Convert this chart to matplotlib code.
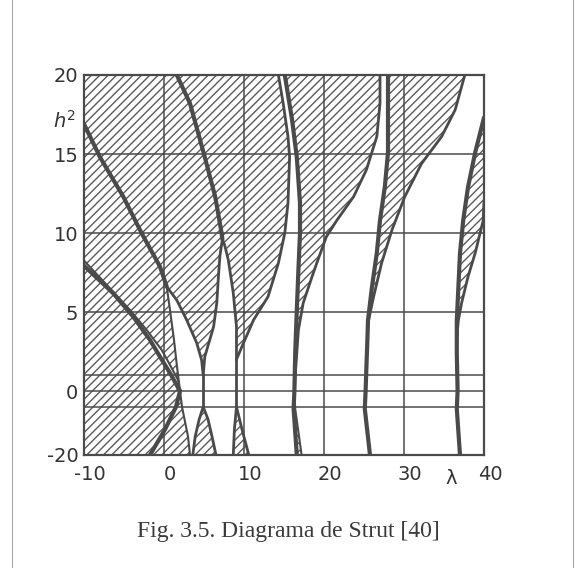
import numpy as np
import matplotlib
matplotlib.use("Agg")
import matplotlib.pyplot as plt
from matplotlib.lines import Line2D
from matplotlib.transforms import ScaledTranslation

# ---- stability boundaries of the Mathieu equation (lambda, h^2) ----
# a0 (thick) above and below the axis
A0_LAM = [-10.0, -6.34, -3.84, -1.75, -0.50, 0.75, 2.0]
A0_H2 = [7.93, 6.18, 4.70, 3.23, 2.17, 1.14, 0.0]
A0N_LAM = [2.0, 1.5, 0.13, -1.75]
A0N_H2 = [0.0, -1.0, -9.9, -20.0]
# b1 (thin, next to a0)
B1_LAM = [-10.0, -6.75, -4.25, -2.16, -0.29, 0.75, 1.75, 2.0]
B1_H2 = [8.25, 6.5, 5.13, 3.86, 2.6, 1.65, 0.7, 0.0]
# right boundary of the first tongue below the axis
L2_LAM = [2.0, 2.25, 3.0, 3.25]
L2_H2 = [0.0, -1.0, -12.7, -20.0]
# a1 (merged with b2 down to the split point, then alone)
A1_LAM = [-10.0, -8.0, -5.09, -2.79, -0.5, 0.34, 0.75, 1.25, 1.6, 2.0]
A1_H2 = [16.9, 14.8, 12.3, 9.98, 7.87, 6.6, 5.13, 3.23, 1.65, 0.0]
SPLIT = 5
# b2 from the split point to the crossing
B2_LAM = [0.34, 1.59, 2.84, 4.09, 4.7, 4.9]
B2_H2 = [6.6, 5.76, 4.49, 3.04, 1.96, 1.0]
# a2 and b3 below their junction, and the merged a2/b3 line above it
A2_LAM = [4.9, 5.1, 6.2, 6.6, 6.8, 7.0, 7.3]
A2_H2 = [1.0, 2.17, 4.07, 5.57, 7.23, 8.6, 9.6]
B3_LAM = [9.06, 9.06, 8.66, 8.04, 7.6, 7.3]
B3_H2 = [2.0, 4.07, 6.2, 8.29, 9.2, 9.6]
BM_LAM = [7.3, 7.2, 6.4, 5.1, 3.25, 1.6]
BM_H2 = [9.6, 10.0, 12.3, 14.8, 18.2, 20.0]
# branches of tongues 2 and 3 below the axis
T2L_LAM = [4.9, 4.4, 3.9, 3.6]
T2L_H2 = [-1.0, -5.9, -12.7, -20.0]
T2R_LAM = [4.9, 5.5, 6.0, 6.5]
T2R_H2 = [-1.0, -5.9, -12.7, -20.0]
T3L_LAM = [9.06, 8.8, 8.66]
T3L_H2 = [-1.0, -9.9, -20.0]
T3R_LAM = [9.06, 9.75, 10.6]
T3R_H2 = [-1.0, -9.9, -20.0]
# a3
A3_LAM = [9.06, 9.9, 11.2, 13.0, 14.3, 15.1, 15.5, 15.7, 15.5, 14.9, 14.3]
A3_H2 = [2.0, 3.0, 4.5, 5.97, 8.10, 10.0, 11.9, 14.8, 16.1, 18.2, 20.0]
# b4 (thick, full height)
B4_LAM = [15.1, 16.0, 16.6, 17.0, 17.0, 16.8, 16.6, 16.4, 16.3, 16.2, 16.6]
B4_H2 = [20.0, 17.2, 14.8, 11.9, 10.0, 7.66, 5.13, 2.4, 0.0, -1.8, -20.0]
# a4 above and below the axis
A4_LAM = [16.3, 16.4, 16.6, 16.8, 17.4, 18.5, 19.1, 20.3, 21.6, 23.7, 25.3, 26.6, 27.0, 27.0]
A4_H2 = [0.0, 1.0, 2.4, 3.86, 5.57, 7.23, 8.1, 9.77, 10.8, 12.3, 14.0, 16.1, 18.2, 20.0]
A4N_LAM = [16.3, 16.4, 17.2]
A4N_H2 = [0.0, -1.8, -20.0]
# b5 (thick) and a5
B5_LAM = [28.0, 28.0, 27.6, 27.0, 26.6, 26.0, 25.5, 25.4, 25.3, 25.2, 25.1, 25.75]
B5_H2 = [20.0, 15.1, 12.9, 10.8, 8.73, 6.6, 4.49, 2.9, 1.5, 0.0, -1.8, -20.0]
A5_LAM = [25.4, 25.5, 26.2, 27.2, 28.5, 30.1, 32.2, 34.7, 36.4, 37.6]
A5_H2 = [2.9, 4.3, 5.97, 8.1, 10.2, 12.3, 14.4, 16.1, 17.8, 20.0]
# b6 (thick) and a6
B6_LAM = [40.0, 38.9, 38.0, 37.4, 37.0, 36.8, 36.6, 36.6, 36.6, 36.7, 36.6, 37.0]
B6_H2 = [17.3, 15.1, 12.9, 10.8, 8.73, 6.6, 4.49, 3.4, 2.4, 0.0, -1.8, -20.0]
A6_LAM = [36.6, 36.8, 37.2, 38.0, 38.9, 39.9, 40.0]
A6_H2 = [3.4, 4.49, 5.57, 7.23, 8.73, 10.8, 12.0]

# axis ticks and reference lines
X_TICKS = [-10, 0, 10, 20, 30, 40]
Y_TICKS = [-20, 0, 5, 10, 15, 20]
X_GRID = [0, 10, 20, 30]
Y_GRID = [-1, 0, 1, 5, 10, 15]

INK = "#4a4a4a"
HATCH_INK = "#5a5a5a"
K = 0.1605  # compression of the axis below h^2 = -1


def fwd(y):
    y = np.asarray(y, dtype=float)
    return np.where(y >= -1, y, -1 + (y + 1) * K)


def inv(d):
    d = np.asarray(d, dtype=float)
    return np.where(d >= -1, d, -1 + (d + 1) / K)


plt.rcParams["hatch.linewidth"] = 1.0
plt.rcParams["mathtext.fontset"] = "dejavusans"

fig = plt.figure(figsize=(5.75, 5.68), dpi=100)
ax = fig.add_axes([84 / 575, 1 - 455 / 568, 400 / 575, 380 / 568])
ax.set_yscale("function", functions=(fwd, inv))
ax.set_xlim(-10, 40)
ax.set_ylim(-20, 20)


def hatch(xs, ys):
    ax.fill(xs, ys, facecolor="none", edgecolor=HATCH_INK, hatch="////",
            linewidth=0, zorder=1)


# unstable regions
hatch([-10] + A0_LAM + L2_LAM[1:], [-20] + A0_H2 + L2_H2[1:])
hatch(B1_LAM + A1_LAM[::-1][1:], B1_H2 + A1_H2[::-1][1:])
hatch(A1_LAM[:SPLIT + 1] + B2_LAM[1:] + A2_LAM[1:] + BM_LAM[1:] + [-10],
      A1_H2[:SPLIT + 1] + B2_H2[1:] + A2_H2[1:] + BM_H2[1:] + [20])
hatch(T2L_LAM + T2R_LAM[::-1], T2L_H2 + T2R_H2[::-1])
hatch(B3_LAM + BM_LAM[1:] + A3_LAM[::-1], B3_H2 + BM_H2[1:] + A3_H2[::-1])
hatch(T3L_LAM + T3R_LAM[::-1], T3L_H2 + T3R_H2[::-1])
hatch(B4_LAM[:9] + A4_LAM[1:], B4_H2[:9] + A4_H2[1:])
hatch(B4_LAM[8:] + A4N_LAM[::-1], B4_H2[8:] + A4N_H2[::-1])
hatch(B5_LAM[:8] + A5_LAM[1:], B5_H2[:8] + A5_H2[1:])
hatch(B6_LAM[:8] + A6_LAM[1:], B6_H2[:8] + A6_H2[1:])

# grid
for gx in X_GRID:
    ax.axvline(gx, color=INK, lw=1.1, zorder=2)
for gy in Y_GRID:
    ax.axhline(gy, color=INK, lw=1.1, zorder=2)

THICK, MED, THIN = 3.0, 2.0, 1.5


def curve(xs, ys, lw):
    ax.plot(xs, ys, color=INK, lw=lw, solid_capstyle="round",
            solid_joinstyle="round", zorder=3)


curve(A0_LAM, A0_H2, THICK)
curve(A0N_LAM, A0N_H2, THICK)
curve(B1_LAM, B1_H2, THIN)
curve(L2_LAM, L2_H2, THIN)
curve(A1_LAM[:SPLIT + 1], A1_H2[:SPLIT + 1], THICK)
curve(A1_LAM[SPLIT:], A1_H2[SPLIT:], THIN)
curve(B2_LAM, B2_H2, MED)
curve(A2_LAM, A2_H2, MED)
curve(B3_LAM, B3_H2, MED)
curve(BM_LAM, BM_H2, THICK)
curve([B2_LAM[-1], T2L_LAM[0]], [B2_H2[-1], T2L_H2[0]], MED)
curve([B3_LAM[0], T3L_LAM[0]], [B3_H2[0], T3L_H2[0]], MED)
curve(T2L_LAM, T2L_H2, MED)
curve(T2R_LAM, T2R_H2, MED)
curve(T3L_LAM, T3L_H2, MED)
curve(T3R_LAM, T3R_H2, MED)
curve(A3_LAM, A3_H2, MED)
curve(B4_LAM, B4_H2, THICK)
curve(A4_LAM, A4_H2, MED)
curve(A4N_LAM, A4N_H2, THIN)
curve(B5_LAM, B5_H2, THICK)
curve(A5_LAM, A5_H2, MED)
curve(B6_LAM, B6_H2, THICK)
curve(A6_LAM, A6_H2, MED)

for sp in ax.spines.values():
    sp.set_color(INK)
    sp.set_linewidth(1.6)

ax.set_xticks(X_TICKS)
ax.set_xticklabels([f"{t:d}" for t in X_TICKS])
ax.set_yticks(Y_TICKS)
ax.set_yticklabels([f"{t:d}" for t in Y_TICKS])
ax.yaxis.set_minor_locator(matplotlib.ticker.NullLocator())
ax.tick_params(length=0, labelsize=14, labelcolor="#333333")
ax.tick_params(axis="x", pad=7.5)
ax.tick_params(axis="y", pad=4)
shift = ScaledTranslation(6 / 100, 0, fig.dpi_scale_trans)
for lab in ax.get_xticklabels():
    lab.set_transform(lab.get_transform() + shift)

fig.text(65 / 575, 1 - 121 / 568, r"$h^2$", fontsize=14, color="#333333",
         ha="center", va="center")
fig.text(451 / 575, 1 - 478 / 568, "λ", fontsize=14, color="#333333",
         ha="center", va="center")
fig.text(288 / 575, 1 - 532 / 568, "Fig. 3.5. Diagrama de Strut [40]",
         family="Liberation Serif", fontsize=17, color="#3a3a3a",
         ha="center", va="center")

for fx in (12 / 575, 573 / 575):
    fig.add_artist(Line2D([fx, fx], [0, 1], transform=fig.transFigure,
                          color="#a8a8a8", lw=0.8))

fig.savefig("out.png", dpi=100)
